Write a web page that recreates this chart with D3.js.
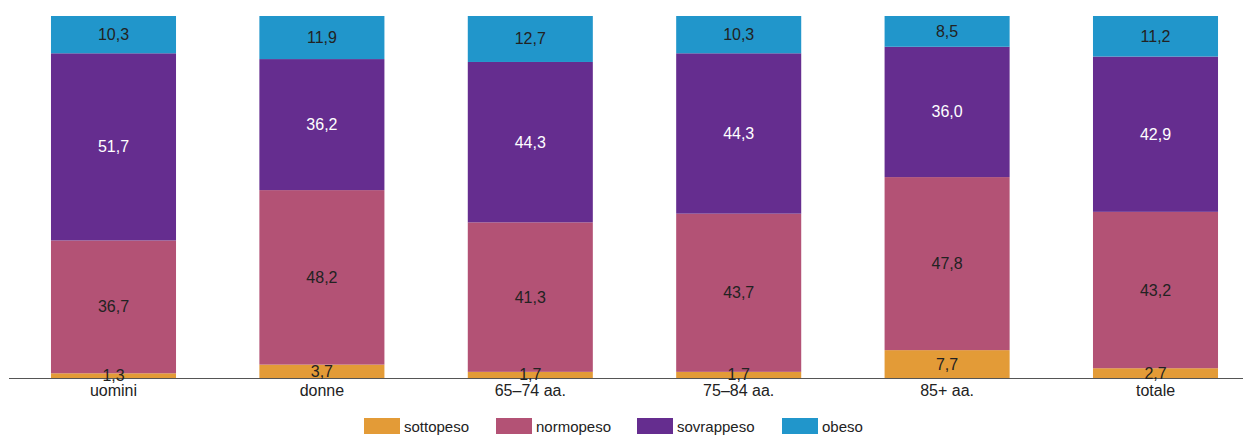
<!DOCTYPE html>
<html>
<head>
<meta charset="utf-8">
<script src="https://cdn.jsdelivr.net/npm/d3@7"></script>
<style>
  html, body { margin: 0; padding: 0; background: #fff; }
  svg { display: block; font-family: "Liberation Sans", Arial, Helvetica, sans-serif; }
</style>
</head>
<body>
<svg id="chart" width="1243" height="435"></svg>
<script>
// Categories along the x axis
const categories = ["uomini", "donne", "65\u201374 aa.", "75\u201384 aa.", "85+ aa.", "totale"];

// Series (percent), stacked bottom to top
const seriesNames = ["sottopeso", "normopeso", "sovrappeso", "obeso"];
const sottopeso  = [1.3, 3.7, 1.7, 1.7, 7.7, 2.7];
const normopeso  = [36.7, 48.2, 41.3, 43.7, 47.8, 43.2];
const sovrappeso = [51.7, 36.2, 44.3, 44.3, 36.0, 42.9];
const obeso      = [10.3, 11.9, 12.7, 10.3, 8.5, 11.2];

const colors = ["#e39b37", "#b35275", "#652d8f", "#2196cb"];

const rows = categories.map((c, i) => ({
  cat: c,
  sottopeso: sottopeso[i],
  normopeso: normopeso[i],
  sovrappeso: sovrappeso[i],
  obeso: obeso[i]
}));

const svg = d3.select("#chart");
const baseY = 378;
const topY = 16;

const x = d3.scaleBand()
  .domain(categories)
  .range([9.3, 1259.7])
  .paddingInner(0.4)
  .paddingOuter(0.2);

const y = d3.scaleLinear().domain([0, 100]).range([baseY, topY]);

const color = d3.scaleOrdinal().domain(seriesNames).range(colors);

const stacked = d3.stack().keys(seriesNames)(rows);

const fmt = v => d3.format(".1f")(v).replace(".", ",");

// Bars
const layers = svg.append("g").selectAll("g")
  .data(stacked)
  .join("g")
  .attr("fill", d => color(d.key));

layers.selectAll("rect")
  .data(d => d)
  .join("rect")
  .attr("x", d => x(d.data.cat))
  .attr("width", x.bandwidth())
  .attr("y", d => y(d[1]))
  .attr("height", d => y(d[0]) - y(d[1]));

// Baseline axis
const axis = svg.append("g").attr("transform", `translate(0,${baseY})`)
  .call(d3.axisBottom(x).tickSize(0).tickPadding(7));
axis.select(".domain").remove();
axis.selectAll("text")
  .attr("font-size", 16)
  .attr("fill", "#222")
  .attr("font-family", "Liberation Sans, Arial, sans-serif");
svg.append("line")
  .attr("x1", 9).attr("x2", 1243)
  .attr("y1", baseY + 0.5).attr("y2", baseY + 0.5)
  .attr("stroke", "#555").attr("stroke-width", 1.2);

// Value labels
const labels = svg.append("g");
stacked.forEach(layer => {
  labels.selectAll(null)
    .data(layer)
    .join("text")
    .attr("x", d => x(d.data.cat) + x.bandwidth() / 2)
    .attr("y", d => (y(d[0]) + y(d[1])) / 2)
    .attr("text-anchor", "middle")
    .attr("dominant-baseline", "central")
    .attr("font-size", 16)
    .attr("fill", d => layer.key === "sovrappeso" ? "#ffffff" : "#222")
    .text(d => fmt(d.data[layer.key]));
});

// Legend
const legendX = [364, 496, 637, 782];
const legend = svg.append("g");
seriesNames.forEach((name, i) => {
  legend.append("rect")
    .attr("x", legendX[i]).attr("y", 418)
    .attr("width", 36).attr("height", 16)
    .attr("fill", colors[i]);
  legend.append("text")
    .attr("x", legendX[i] + 40).attr("y", 426)
    .attr("dominant-baseline", "central")
    .attr("font-size", 15)
    .attr("fill", "#222")
    .text(name);
});
</script>
</body>
</html>
